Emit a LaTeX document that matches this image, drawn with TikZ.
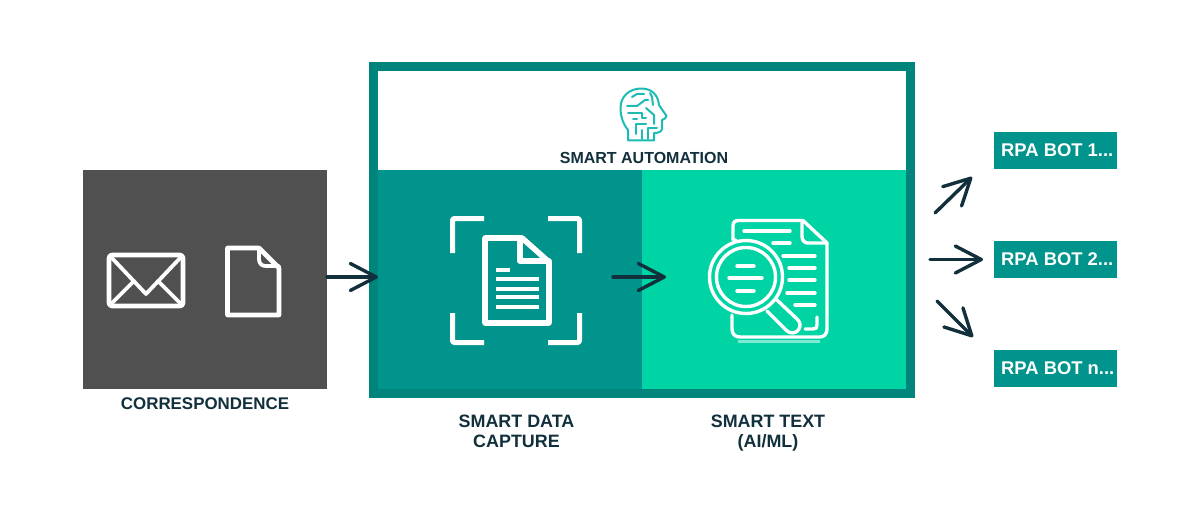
\documentclass[tikz,border=0pt]{standalone}
\usepackage{fontspec}
\setmainfont{Liberation Sans}
\usetikzlibrary{arrows.meta}
\definecolor{frameteal}{HTML}{00857D}
\definecolor{panelteal}{HTML}{00948C}
\definecolor{panelgreen}{HTML}{00D4A4}
\definecolor{graybox}{HTML}{505050}
\definecolor{inkdark}{HTML}{12303C}
\definecolor{headcyan}{HTML}{1CBCB4}
\tikzset{
  x=1pt,y=-1pt,
  block/.style={draw=none,inner sep=0pt,outer sep=0pt,anchor=north west},
  caption/.style={inner sep=0pt,text=inkdark,font=\bfseries\fontsize{17.9}{20}\selectfont,align=center,anchor=base},
  botbox/.style={block,fill=panelteal,minimum width=123pt,minimum height=37pt},
  bottext/.style={inner sep=0pt,text=white,font=\bfseries\fontsize{18.4}{20}\selectfont,anchor=base west},
  flow/.style={draw=inkdark,line width=3.4pt,line cap=round,-{Straight Barb[length=26pt,width=27pt,line width=3.4pt,round]}},
  icon/.style={draw=white,line width=4.6pt,line cap=round,line join=round},
  iconthin/.style={draw=white,line width=3.4pt,line cap=round,line join=round},
  brain/.style={draw=headcyan,line width=2pt,line cap=round,line join=round}
}
\begin{document}
\begin{tikzpicture}
\useasboundingbox (0,0) rectangle (1200,508);
\fill[white] (0,0) rectangle (1200,508);
% boxes
\node[block,fill=graybox,minimum width=244pt,minimum height=219pt] (gray) at (83,170) {};
\node[block,fill=frameteal,minimum width=546pt,minimum height=336pt] (frame) at (369,62) {};
\node[block,fill=white,minimum width=528pt,minimum height=99pt] (top) at (378,71) {};
\node[block,fill=panelteal,minimum width=264pt,minimum height=219pt] (capture) at (378,170) {};
\node[block,fill=panelgreen,minimum width=264pt,minimum height=219pt] (text) at (642,170) {};
% bots
\node[botbox] (bot1) at (994,132) {};
\node[botbox] (bot2) at (994,241) {};
\node[botbox] (bot3) at (994,350) {};
\node[bottext] (bot1t) at (1001,156.5) {RPA BOT 1...};
\node[bottext] (bot2t) at (1001,265.5) {RPA BOT 2...};
\node[bottext] (bot3t) at (1001,374.5) {RPA BOT n...};
% captions
\node[caption,font=\bfseries\fontsize{16.9}{20}\selectfont] (c1) at (205,409) {CORRESPONDENCE};
\node[caption,font=\bfseries\fontsize{16}{20}\selectfont] (c2) at (644,164) {SMART AUTOMATION};
\node[caption] (c3) at (516.5,427) {SMART DATA};
\node[caption] (c3b) at (516.5,447) {CAPTURE};
\node[caption] (c4) at (768,427) {SMART TEXT};
\node[caption] (c4b) at (768,447) {(AI/ML)};
% envelope
\draw[icon,rounded corners=3pt] (109,255) rectangle (183,306);
\draw[icon,line width=3.8pt] (110,256) -- (146,294) -- (182,256);
\draw[icon,line width=3.8pt] (110,305) -- (134,281);
\draw[icon,line width=3.8pt] (182,305) -- (158,281);
% plain document
\draw[icon] (227.5,248) -- (259,248) -- (279,268) -- (279,315) -- (227.5,315) -- cycle;
\draw[icon,line width=3.8pt] (259,248) -- (259,259) .. controls (259,264) and (262,266) .. (266,266) -- (279,266);
% scan brackets
\draw[icon,line width=5pt,line cap=butt,rounded corners=2pt] (452.5,253) -- (452.5,218.5) -- (484,218.5);
\draw[icon,line width=5pt,line cap=butt,rounded corners=2pt] (548,218.5) -- (579.5,218.5) -- (579.5,253);
\draw[icon,line width=5pt,line cap=butt,rounded corners=2pt] (452.5,313) -- (452.5,342.5) -- (484,342.5);
\draw[icon,line width=5pt,line cap=butt,rounded corners=2pt] (548,342.5) -- (579.5,342.5) -- (579.5,313);
% scanned document
\draw[icon,line width=5.6pt] (485,238) -- (522,238) -- (549,262) -- (549,323) -- (485,323) -- cycle;
\draw[icon,line width=5.6pt] (520,238) -- (520,261) -- (549,261);
\foreach \ya/\xb in {270/510,279/539,289/539,297/539,307/539}
  \draw[draw=white,line width=4pt] (496,\ya) -- (\xb,\ya);
% report document
\draw[iconthin] (736,240) -- (733,240) -- (733,226) .. controls (733,222) and (735,220.5) .. (739,220.5) -- (803,220.5) -- (827,243) -- (827,329) .. controls (827,334) and (824,337) .. (820,337) -- (740,337) .. controls (735,337) and (732,334) .. (732,329) -- (732,315);
\draw[iconthin] (802,220.5) -- (802,236) .. controls (802,240) and (804,243) .. (808,243) -- (827,243);
\foreach \ya/\xa/\xb in {231/744/790,243/773/790,256/783/815,268/789/815,280/789/815,293/787/815,305/795/815}
  \draw[iconthin] (\xa,\ya) -- (\xb,\ya);
\draw[iconthin] (805,329) -- (813,329) .. controls (816,329) and (817,328) .. (817,325) -- (817,317);
\draw[draw=white,opacity=.5,line width=3pt] (738,341.5) -- (820,341.5);
% magnifier
\draw[iconthin,fill=panelgreen] (746,277) circle[radius=36.5];
\draw[iconthin] (746,277) circle[radius=29.5];
\foreach \ya/\xa/\xb in {266/737/754,278/729/762,291/737/754}
  \draw[iconthin] (\xa,\ya) -- (\xb,\ya);
\draw[iconthin] (767,311) -- (786,330) .. controls (791,335) and (797,333) .. (799,329) .. controls (801,325) and (800,322) .. (797,319) -- (777,300);
% head icon
\draw[brain] (628,140.5) -- (628,130) .. controls (623,124) and (620.5,116) .. (620.5,108) .. controls (620.5,96) and (630,88.5) .. (641,88.5) .. controls (652,88.5) and (658,95) .. (659,105) -- (666.5,116) .. controls (667,118) and (664,119) .. (662,120) -- (662,128) .. controls (662,131) and (660,133) .. (654,133) -- (654,140.5) -- cycle;
\draw[brain] (627,106) -- (637,106) -- (645,100) -- (648,100);
\draw[brain] (632,97) -- (637,94) -- (644,94);
\draw[brain] (650,93) -- (652,97) -- (653,105);
\draw[brain] (628,113) -- (642,113) -- (642,118) -- (646,118);
\draw[brain] (646,108) -- (654,115) -- (654,124);
\draw[brain] (636,134) -- (636,124) -- (646,124);
\draw[brain] (642,139) -- (642,130);
\draw[brain] (648,139) -- (648,128) -- (657,128);
\draw[brain] (633,119) -- (637,119);
% connectors
\coordinate (m1) at (613,277);
\coordinate (m2) at (666,277);
\coordinate (u1) at (935,213);
\coordinate (u2) at (972,177);
\coordinate (h1) at (930,259.5);
\coordinate (h2) at (983,259.5);
\coordinate (d1) at (937,301);
\coordinate (d2) at (973,337);
\draw[flow] (gray.east |- 0,277) -- (capture.west |- 0,277);
\draw[flow] (m1) -- (m2);
\draw[flow] (u1) -- (u2);
\draw[flow] (h1) -- (h2);
\draw[flow] (d1) -- (d2);
\end{tikzpicture}
\end{document}
